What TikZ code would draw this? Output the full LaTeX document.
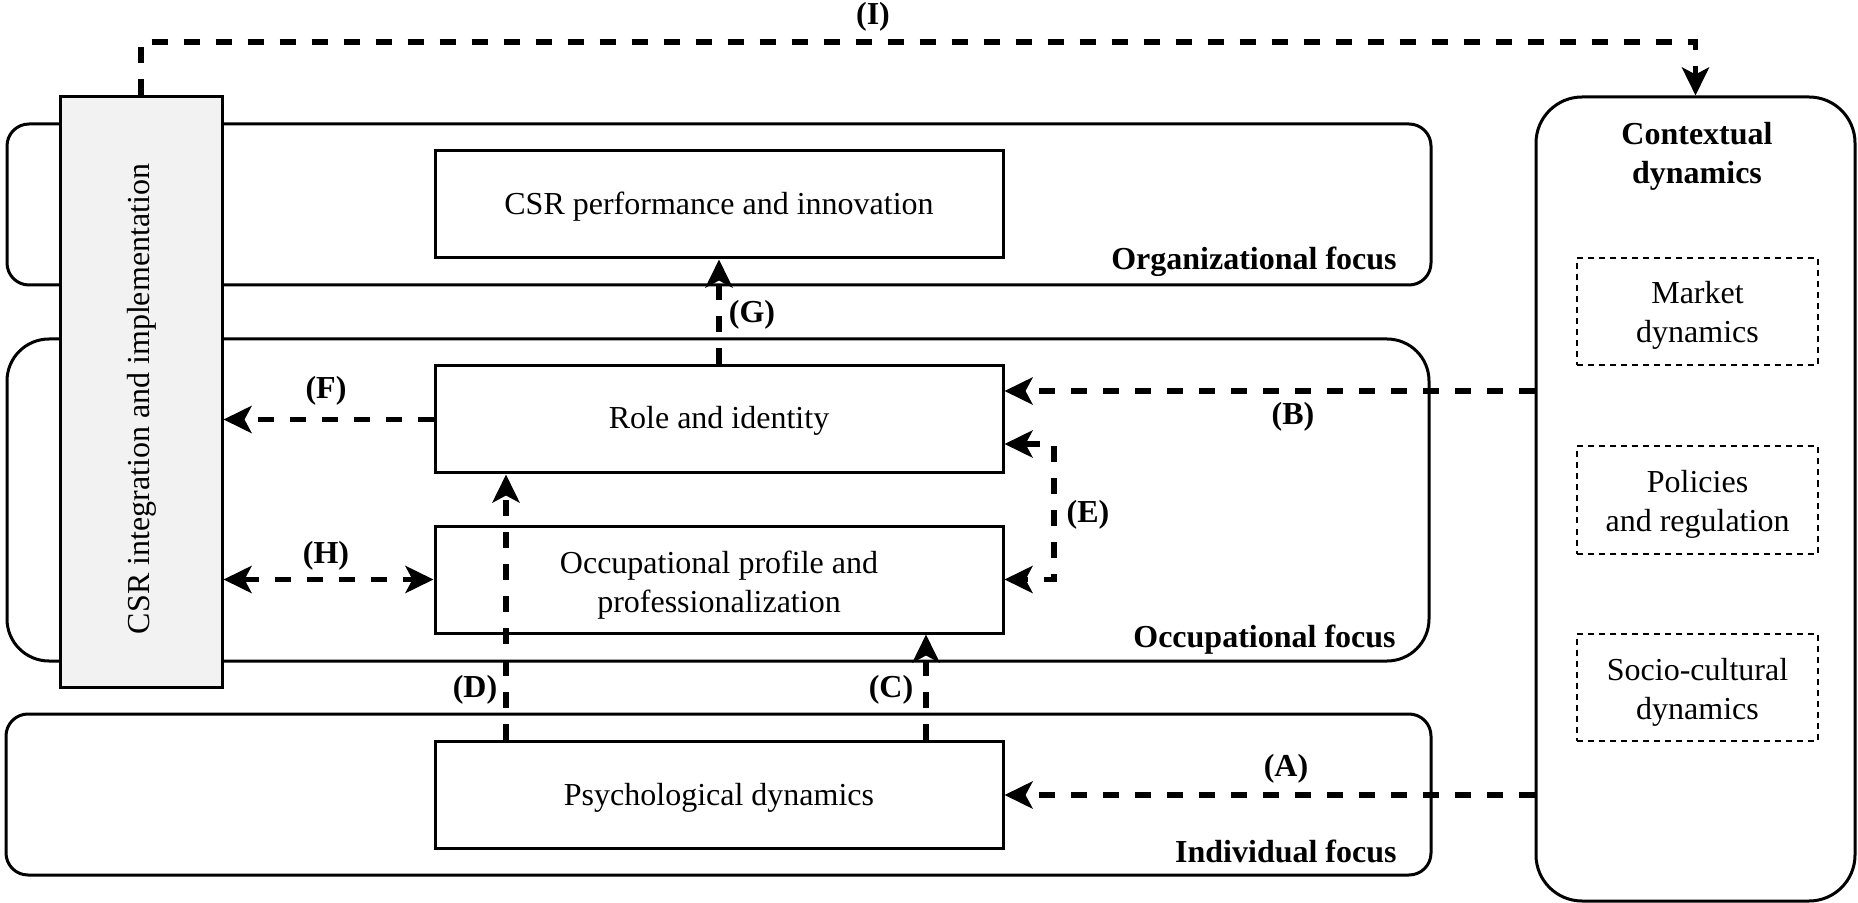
\documentclass[tikz,border=0pt]{standalone}
\usepackage{fontspec}
\setmainfont{Liberation Serif}
\usetikzlibrary{arrows.meta,calc}
\definecolor{barfill}{RGB}{242,242,242}
% lower a (possibly multi-line) text block without changing the size TeX sees
\newcommand{\dropped}[2]{\raisebox{-#1}[\height][\depth]{\begin{tabular}{@{}c@{}}#2\end{tabular}}}
\begin{document}
\begin{tikzpicture}[x=0.5pt, y=-0.5pt,
  txt/.style={font=\fontsize{16}{19.5}\selectfont},
  lbl/.style={font=\fontsize{16}{19.5}\selectfont\bfseries},
  group/.style={draw, line width=1.5pt, fill=white, inner sep=0pt},
  box/.style={draw, line width=1.5pt, fill=white, minimum width=284pt,
    minimum height=53.5pt, inner sep=0pt, align=center, txt},
  ctxitem/.style={draw, line width=1pt, dash pattern=on 3pt off 2.5pt,
    minimum width=120.5pt, minimum height=53.5pt, inner sep=0pt,
    align=center, txt},
  flowtip/.tip={Stealth[length=14pt,width=13.5pt,inset=3.5pt]},
  flow/.style={line width=2.6pt, dash pattern=on 8pt off 8pt, -flowtip},
  twoway/.style={flowtip-flowtip},
]
\useasboundingbox (0,0) rectangle (1858,903);

% levels of analysis
\node[group, rounded corners=11pt, minimum width=712pt, minimum height=80.5pt] (org) at (719,204.5) {};
\node[group, rounded corners=21pt, minimum width=711pt, minimum height=161pt] (occ) at (718,500) {};
\node[group, rounded corners=11pt, minimum width=712.5pt, minimum height=80.5pt] (ind) at (718.5,794.5) {};
\node[lbl, inner sep=0pt, anchor=base east] (orglbl) at (1397,270) {Organizational focus};
\node[lbl, inner sep=0pt, anchor=base east] (occlbl) at (1396,647) {Occupational focus};
\node[lbl, inner sep=0pt, anchor=base east] (indlbl) at (1397,862) {Individual focus};

% context column
\node[group, rounded corners=23pt, minimum width=159.5pt, minimum height=402pt] (ctx) at (1695.5,499) {};
\node[lbl, align=center] (ctxtitle) at (1697,156) {Contextual\\dynamics};
\node[ctxitem] (market) at (1697.5,311.5) {\dropped{1.8pt}{Market\\dynamics}};
\node[ctxitem] (policy) at (1697.5,500) {\dropped{2.2pt}{Policies\\and regulation}};
\node[ctxitem] (socio) at (1697.5,687) {\dropped{2.5pt}{Socio-cultural\\dynamics}};

% CSR integration bar
\node[draw, line width=1.5pt, fill=barfill, minimum width=81pt, minimum height=295pt, inner sep=0pt] (bar) at (141,392) {};
\node[txt, rotate=90] (bartxt) at (142,399) {CSR integration and implementation};

% inner boxes
\node[box] (csr) at (719,204.5) {\dropped{1.2pt}{CSR performance and innovation}};
\node[box] (role) at (719,419.5) {\dropped{0.6pt}{Role and identity}};
\node[box] (prof) at (719,579.5) {\dropped{2.8pt}{Occupational profile and\\professionalization}};
\node[box] (psych) at (719,795) {\dropped{1.2pt}{Psychological dynamics}};

% helper coordinates for connector routing
\coordinate (itop) at (0,42);
\coordinate (bpt) at (0,391);
\coordinate (etop) at (1054,444);
\coordinate (dcol) at (506,0);
\coordinate (ccol) at (926,0);

% connectors
\draw[flow] (bar.north) -- (bar.north |- itop) -| (ctx.north);
\draw[flow] (ctx.west |- bpt) -- (role.east |- bpt);
\draw[flow] (ctx.west |- psych.east) -- (psych.east);
\draw[flow, twoway] (role.east |- etop) -- (etop) |- (prof.east);
\draw[flow] (role.west) -- (bar.east |- role.west);
\draw[flow, twoway] (bar.east |- prof.west) -- (prof.west);
\draw[flow] (role.north) -- (csr.south);
\draw[flow] (psych.north -| dcol) -- (role.south -| dcol);
\draw[flow] (psych.north -| ccol) -- (prof.south -| ccol);

% connector labels
\node[lbl] (lI) at (873,17) {(I)};
\node[lbl] (lB) at (1293,417) {(B)};
\node[lbl] (lA) at (1286,769) {(A)};
\node[lbl] (lE) at (1088,515) {(E)};
\node[lbl] (lF) at (326,391) {(F)};
\node[lbl] (lH) at (326,556) {(H)};
\node[lbl] (lG) at (752,315) {(G)};
\node[lbl] (lD) at (475,690) {(D)};
\node[lbl] (lC) at (891,690) {(C)};
\end{tikzpicture}
\end{document}
